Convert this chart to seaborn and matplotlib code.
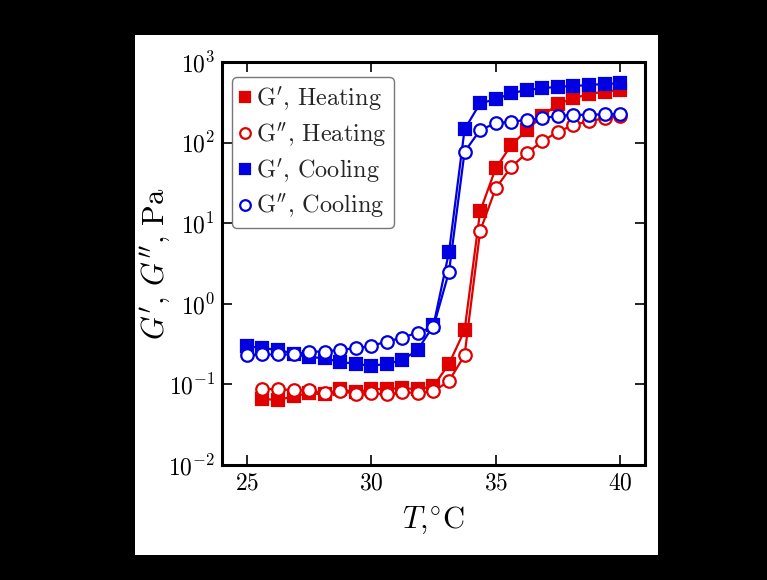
import numpy as np
import pandas as pd
import seaborn as sns
import matplotlib.pyplot as plt
from matplotlib.patches import Rectangle

# temperatures (step 0.625 C)
T_cool = [25.0, 25.625, 26.25, 26.875, 27.5, 28.125, 28.75, 29.375, 30.0, 30.625,
          31.25, 31.875, 32.5, 33.125, 33.75, 34.375, 35.0, 35.625, 36.25, 36.875,
          37.5, 38.125, 38.75, 39.375, 40.0]
T_heat = T_cool[1:]

# moduli in Pa
Gp_heat = [0.066, 0.064, 0.071, 0.078, 0.075, 0.087, 0.080, 0.087, 0.088, 0.090,
           0.087, 0.095, 0.18, 0.47, 14, 48, 93, 143, 215, 300,
           355, 400, 430, 450]
Gpp_heat = [0.088, 0.087, 0.085, 0.084, 0.078, 0.082, 0.077, 0.078, 0.075, 0.080,
            0.078, 0.082, 0.11, 0.23, 8.0, 27, 50, 74, 104, 136,
            165, 185, 200, 212]
Gp_cool = [0.30, 0.28, 0.27, 0.24, 0.22, 0.21, 0.19, 0.18, 0.17, 0.18,
           0.20, 0.27, 0.54, 4.4, 146, 308, 344, 409, 450, 472,
           494, 503, 519, 534, 545]
Gpp_cool = [0.23, 0.235, 0.235, 0.235, 0.255, 0.255, 0.27, 0.28, 0.30, 0.34,
            0.38, 0.44, 0.52, 2.5, 77, 143, 174, 182, 191, 200,
            215, 220, 222, 224, 225]

sns.set_style("ticks")
plt.rcParams['font.family'] = 'serif'
plt.rcParams['font.serif'] = ['cmr10', 'DejaVu Serif']
plt.rcParams['mathtext.fontset'] = 'cm'
plt.rcParams['axes.formatter.use_mathtext'] = True

fig = plt.figure(figsize=(7.67, 5.8), dpi=100, facecolor='black')
fig.patches.append(Rectangle((0.176, 0.043), 0.682, 0.897, transform=fig.transFigure,
                             facecolor='white', edgecolor='none', zorder=-10))
ax = fig.add_axes([0.2894, 0.1983, 0.5515, 0.6948])

red = '#e00000'
blue = '#0000e0'
series = [
    (T_heat, Gp_heat, red, 's', red, "G$'$, Heating"),
    (T_heat, Gpp_heat, red, 'o', 'white', "G$''$, Heating"),
    (T_cool, Gp_cool, blue, 's', blue, "G$'$, Cooling"),
    (T_cool, Gpp_cool, blue, 'o', 'white', "G$''$, Cooling"),
]
for x, y, c, m, fc, lab in series:
    sns.lineplot(x=x, y=y, ax=ax, color=c, marker=m, markersize=9,
                 markerfacecolor=fc, markeredgecolor=c, markeredgewidth=1.6,
                 linewidth=1.6, label=lab)

ax.set_yscale('log')
ax.set_xlim(24, 41)
ax.set_ylim(1e-2, 1e3)
ax.set_xticks([25, 30, 35, 40])
ax.set_yticks([1e-2, 1e-1, 1e0, 1e1, 1e2, 1e3])
ax.minorticks_off()
ax.tick_params(direction='in', length=7, width=1.2, labelsize=17,
               top=True, right=True, pad=5, colors='black')
for s in ax.spines.values():
    s.set_linewidth(2.2)
    s.set_color('black')

ax.set_xlabel(r"$T$,$^{\circ}$C", fontsize=22, labelpad=8, color='black')
ax.set_ylabel(r"$G'$, $G''$, Pa", fontsize=22, color='black')
ax.yaxis.set_label_coords(-0.115, 0.5)

leg = ax.legend(loc='upper left', bbox_to_anchor=(0.024, 0.962), borderaxespad=0,
                fontsize=17.5, handlelength=0.45, handletextpad=0.25, markerscale=0.85,
                labelspacing=0.3, borderpad=0.3, fancybox=True, framealpha=1,
                edgecolor='#777777')
for h in leg.legend_handles:
    h.set_linestyle('None')

plt.savefig('out.png', dpi=100, facecolor='black')
